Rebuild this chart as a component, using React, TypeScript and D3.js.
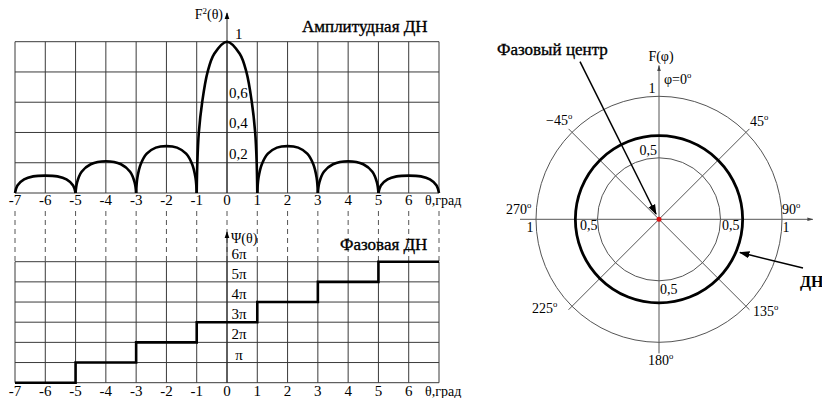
import React from 'react';
import * as d3 from 'd3';

// theta axis ticks (degrees)
const thetaTicks = [-7, -6, -5, -4, -3, -2, -1, 0, 1, 2, 3, 4, 5, 6, 7];
const thetaLabels = [-7, -6, -5, -4, -3, -2, -1, 0, 1, 2, 3, 4, 5, 6];
// amplitude grid levels
const ampLevels = [0, 0.2, 0.4, 0.6, 0.8, 1];
const ampLabels = [
  { v: 0.2, t: '0,2' },
  { v: 0.4, t: '0,4' },
  { v: 0.6, t: '0,6' },
];

// amplitude pattern lobes: [theta, F^2]
const lobeL6 = [[-7, 0], [-6.92, 0.05], [-6.7, 0.09], [-6.4, 0.11], [-6, 0.115], [-5.6, 0.11], [-5.3, 0.09], [-5.08, 0.05], [-5, 0]];
const lobeL4 = [[-5, 0], [-4.95, 0.07], [-4.8, 0.14], [-4.5, 0.19], [-4, 0.21], [-3.5, 0.19], [-3.2, 0.14], [-3.05, 0.07], [-3, 0]];
const lobeL2 = [[-3, 0], [-2.96, 0.1], [-2.85, 0.19], [-2.65, 0.26], [-2.35, 0.3], [-2, 0.31], [-1.65, 0.3], [-1.35, 0.26], [-1.15, 0.19], [-1.04, 0.1], [-1, 0]];
const mainLobe = [[-1, 0], [-0.98, 0.2], [-0.93, 0.4], [-0.82, 0.6], [-0.64, 0.8], [-0.42, 0.92], [0, 1], [0.42, 0.92], [0.64, 0.8], [0.82, 0.6], [0.93, 0.4], [0.98, 0.2], [1, 0]];
const lobeR2 = [[1, 0], [1.04, 0.1], [1.15, 0.19], [1.35, 0.26], [1.65, 0.3], [2, 0.31], [2.35, 0.3], [2.65, 0.26], [2.85, 0.19], [2.96, 0.1], [3, 0]];
const lobeR4 = [[3, 0], [3.05, 0.07], [3.2, 0.14], [3.5, 0.19], [4, 0.21], [4.5, 0.19], [4.8, 0.14], [4.95, 0.07], [5, 0]];
const lobeR6 = [[5, 0], [5.08, 0.05], [5.3, 0.09], [5.6, 0.11], [6, 0.115], [6.4, 0.11], [6.7, 0.09], [6.92, 0.05], [7, 0]];
const lobes = [lobeL6, lobeL4, lobeL2, mainLobe, lobeR2, lobeR4, lobeR6];

// phase pattern: step edges (theta) and phase in units of pi
const phaseEdges = [-7, -5, -3, -1, 1, 3, 5, 7];
const phaseValues = [0, 1, 2, 3, 4, 5, 6, 6];
const phaseLevels = [0, 1, 2, 3, 4, 5, 6];
const phaseLabels = ['', 'π', '2π', '3π', '4π', '5π', '6π'];

// polar chart
const polarRings = [0.5, 1];
const spokes = [45, 135, 225, 315];
const patternValue = 0.68;

const serif = 'Liberation Serif, Times New Roman, Times, serif';

const Deg = ({ x, y, text, anchor = 'start', size = 14 }) => (
  <text x={x} y={y} textAnchor={anchor} fontSize={size} fontFamily={serif}>
    {text}
    <tspan fontSize={size * 0.62} dy={-size * 0.45}>o</tspan>
  </text>
);

const App = () => {
  const x = d3.scaleLinear().domain([-7, 7]).range([15, 439]);
  const yA = d3.scaleLinear().domain([0, 1]).range([193, 41.7]);
  const yP = d3.scaleLinear().domain([0, 6]).range([382.7, 261.7]);

  const lobeLine = d3.line<number[]>()
    .x(d => x(d[0]))
    .y(d => yA(d[1]))
    .curve(d3.curveCatmullRom.alpha(0.5));

  const phaseLine = d3.line<number>()
    .x(d => x(d))
    .y((d, i) => yP(phaseValues[i]))
    .curve(d3.curveStepAfter);

  const cx = 659, cy = 219.3;
  const r = d3.scaleLinear().domain([0, 1]).range([0, 123]);
  const pt = (deg: number, rad: number) => {
    const a = (deg * Math.PI) / 180;
    return [cx + rad * Math.sin(a), cy - rad * Math.cos(a)];
  };

  const gridColor = '#3a3a3a';
  const title = { stroke: '#000', strokeWidth: 0.35 };

  return (
    <svg width={822} height={398} style={{ position: 'absolute', left: 0, top: 0, background: '#fff' }}>
      <defs>
        <marker id="arr" viewBox="0 0 10 10" refX="9" refY="5" markerWidth="7" markerHeight="7" orient="auto-start-reverse">
          <path d="M0,1.5 L10,5 L0,8.5 z" fill="#000" />
        </marker>
        <marker id="arrS" viewBox="0 0 10 10" refX="9" refY="5" markerWidth="6" markerHeight="6" orient="auto-start-reverse">
          <path d="M0,2 L10,5 L0,8 z" fill="#444" />
        </marker>
      </defs>

      {/* ---------- amplitude pattern ---------- */}
      <g stroke={gridColor} strokeWidth={1} fill="none">
        {thetaTicks.map(t => (
          <line key={'va' + t} x1={x(t)} x2={x(t)} y1={yA(1)} y2={yA(0)} />
        ))}
        {ampLevels.map(v => (
          <line key={'ha' + v} x1={x(-7)} x2={x(7)} y1={yA(v)} y2={yA(v)} />
        ))}
        <line x1={x(0)} x2={x(0)} y1={yA(0)} y2={13} markerEnd="url(#arr)" stroke="#222" />
      </g>
      {lobes.map((l, i) => (
        <path key={'lobe' + i} d={lobeLine(l) || ''} fill="none" stroke="#000" strokeWidth={2.6} />
      ))}
      <g fontFamily={serif} fontSize={15}>
        {ampLabels.map(d => (
          <text key={d.t} x={x(0) + 2} y={yA(d.v) - 4}>{d.t}</text>
        ))}
        <text x={x(0) + 8} y={yA(1) - 3}>1</text>
        <text x={x(0) - 4} y={19} textAnchor="end" fontSize={14}>F<tspan fontSize={9} dy={-5}>2</tspan><tspan dy={5}>(θ)</tspan></text>
        <text x={302} y={32} fontSize={17} {...title}>Амплитудная ДН</text>
        {thetaLabels.map(t => (
          <text key={'ta' + t} x={x(t)} y={205} textAnchor="middle">{t}</text>
        ))}
        <text x={425} y={205} fontSize={14}>θ,град</text>
      </g>

      {/* dashed projection lines */}
      <g stroke="#555" strokeWidth={1} strokeDasharray="5,4">
        {thetaTicks.map(t => (
          <line key={'dl' + t} x1={x(t)} x2={x(t)} y1={211} y2={yP(6)} />
        ))}
      </g>

      {/* ---------- phase pattern ---------- */}
      <g stroke={gridColor} strokeWidth={1} fill="none">
        {thetaTicks.map(t => (
          <line key={'vp' + t} x1={x(t)} x2={x(t)} y1={yP(6)} y2={yP(0)} />
        ))}
        {phaseLevels.map(v => (
          <line key={'hp' + v} x1={x(-7)} x2={x(7)} y1={yP(v)} y2={yP(v)} />
        ))}
        <line x1={x(0)} x2={x(0)} y1={yP(0)} y2={232} markerEnd="url(#arr)" stroke="#222" />
      </g>
      <path d={phaseLine(phaseEdges) || ''} fill="none" stroke="#000" strokeWidth={2.6} />
      <g fontFamily={serif} fontSize={15}>
        {phaseLevels.filter(v => v > 0).map(v => (
          <text key={'pl' + v} x={x(0) + 12} y={yP(v) - 3} textAnchor="middle">{phaseLabels[v]}</text>
        ))}
        <text x={231} y={243} fontSize={14}>Ψ(θ)</text>
        <text x={340} y={250} fontSize={17} {...title}>Фазовая ДН</text>
        {thetaLabels.map(t => (
          <text key={'tp' + t} x={x(t)} y={396} textAnchor="middle">{t}</text>
        ))}
        <text x={425} y={396} fontSize={14}>θ,град</text>
      </g>

      {/* ---------- polar pattern ---------- */}
      <g stroke="#555" strokeWidth={1} fill="none">
        {polarRings.map(v => (
          <circle key={'ring' + v} cx={cx} cy={cy} r={r(v)} />
        ))}
        {spokes.map(a => {
          const [x2, y2] = pt(a, r(1.04));
          return <line key={'sp' + a} x1={cx} y1={cy} x2={x2} y2={y2} />;
        })}
        <line x1={cx} x2={cx} y1={cy + r(1.09)} y2={cy - r(1.25)} markerEnd="url(#arrS)" />
        <line x1={cx - r(1.13)} x2={cx + r(1.25)} y1={cy} y2={cy} markerEnd="url(#arrS)" />
      </g>
      <circle cx={cx} cy={cy} r={r(patternValue)} fill="none" stroke="#000" strokeWidth={2.8} />
      <circle cx={cx} cy={cy} r={2.5} fill="#d11" />

      {/* phase center and pattern pointers */}
      <line x1={580} y1={61.7} x2={656} y2={214} stroke="#000" strokeWidth={1.5} markerEnd="url(#arr)" />
      <line x1={803} y1={268} x2={740} y2={252.5} stroke="#000" strokeWidth={1.5} markerEnd="url(#arr)" />

      <g fontFamily={serif} fontSize={14}>
        <text x={661} y={61} textAnchor="middle">F(φ)</text>
        <Deg x={664} y={84} text="φ=0" />
        <text x={652} y={93} textAnchor="middle">1</text>
        <text x={657} y={155} textAnchor="end">0,5</text>
        <Deg x={546} y={125} text="−45" />
        <Deg x={750} y={126} text="45" />
        <Deg x={506} y={214} text="270" />
        <text x={530} y={232} textAnchor="middle">1</text>
        <text x={580} y={230}>0,5</text>
        <text x={722} y={230}>0,5</text>
        <text x={786} y={232} textAnchor="middle">1</text>
        <Deg x={782} y={214} text="90" />
        <text x={660} y={294}>0,5</text>
        <Deg x={532} y={313} text="225" />
        <Deg x={753} y={316} text="135" />
        <Deg x={648} y={365} text="180" />
        <text x={497} y={55} fontSize={17} {...title}>Фазовый центр</text>
        <text x={800} y={287} fontSize={16} fontWeight="bold">ДН</text>
      </g>
    </svg>
  );
};

export default App;
